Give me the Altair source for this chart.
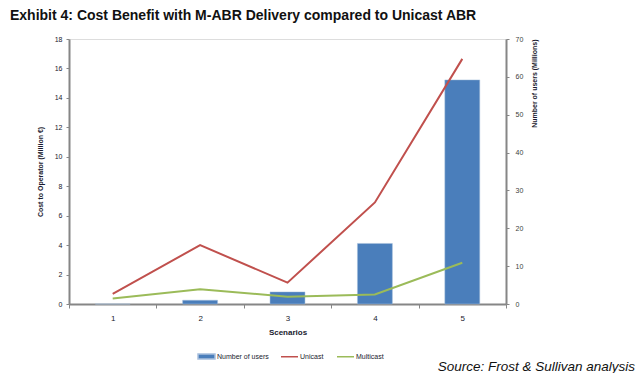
import altair as alt
import pandas as pd

scenarios = ["1", "2", "3", "4", "5"]
users = [0.0, 1.0, 3.2, 16.0, 59.2]
unicast = [0.68, 4.0, 1.45, 6.9, 16.65]
multicast = [0.37, 1.0, 0.5, 0.65, 2.8]

bar_df = pd.DataFrame({"Scenario": scenarios, "Users": users, "Series": "Number of users"})
line_df = pd.DataFrame({
    "Scenario": scenarios * 2,
    "Cost": unicast + multicast,
    "Series": ["Unicast"] * 5 + ["Multicast"] * 5,
})

AX = "#868686"
FONT = "Liberation Sans"

xenc = alt.X("Scenario:N", sort=scenarios,
             scale=alt.Scale(paddingInner=0, paddingOuter=0),
             axis=alt.Axis(title="Scenarios", labelAngle=0, tickBand="extent",
                           domainColor=AX, domainWidth=2, tickColor=AX, tickSize=4,
                           labelFontSize=8, labelPadding=6, labelColor="#1a1a2e",
                           titleFontSize=8, titleFontWeight="bold", titlePadding=6,
                           titleColor="#1a1a2e"))

bars = alt.Chart(bar_df).mark_bar(width=alt.RelativeBandSize(0.4), stroke="#a9c0dd", strokeWidth=0.5).encode(
    x=xenc,
    y=alt.Y("Users:Q", scale=alt.Scale(domain=[0, 70]),
            axis=alt.Axis(orient="right", title="Number of users (Millions)",
                          values=[0, 10, 20, 30, 40, 50, 60, 70], grid=False,
                          domainColor=AX, domainWidth=2, tickColor=AX, tickSize=3,
                          labelFontSize=7, labelColor="#404040", labelPadding=6,
                          titleFontSize=7, titleFontWeight="bold", titleColor="#1a1a2e",
                          titleAnchor="end", titleAngle=-90, titlePadding=15)),
    fill=alt.Fill("Series:N", scale=alt.Scale(domain=["Number of users"], range=["#4a7ebb"]),
                  legend=alt.Legend(title=None, orient="none", direction="horizontal",
                                    legendX=128, legendY=308,
                                    symbolType="M-1,-0.3H1V0.3H-1Z", symbolSize=289,
                                    labelFontSize=7, labelColor="#1a1a2e")),
)

lines = alt.Chart(line_df).mark_line(strokeWidth=2).encode(
    x=xenc,
    y=alt.Y("Cost:Q", scale=alt.Scale(domain=[0, 18]),
            axis=alt.Axis(orient="left", title="Cost to Operator (Million €)",
                          values=[0, 2, 4, 6, 8, 10, 12, 14, 16, 18], grid=False,
                          domainColor=AX, domainWidth=2, tickColor=AX, tickSize=3,
                          labelFontSize=7, labelColor="#1a1a2e", labelPadding=4,
                          titleFontSize=7, titleFontWeight="bold", titleColor="#1a1a2e",
                          titlePadding=11)),
    stroke=alt.Stroke("Series:N", scale=alt.Scale(domain=["Unicast", "Multicast"],
                                                  range=["#c0504d", "#9bbb59"]),
                      legend=alt.Legend(title=None, orient="none", direction="horizontal",
                                        legendX=211, legendY=308,
                                        symbolType="stroke", symbolSize=289, symbolStrokeWidth=1.5,
                                        labelFontSize=7, labelColor="#1a1a2e")),
    detail="Series:N",
)

source = alt.Chart(pd.DataFrame({"t": ["Source: Frost & Sullivan analysis"]})).mark_text(
    align="right", baseline="alphabetic", fontSize=13.5, fontStyle="italic", font=FONT, color="#111"
).encode(text="t:N", x=alt.value(566), y=alt.value(332))

chart = alt.layer(bars, lines, source).resolve_scale(
    y="independent", fill="independent", stroke="independent"
).properties(
    width=437, height=265,
    title=alt.TitleParams("Exhibit 4: Cost Benefit with M-ABR Delivery compared to Unicast ABR",
                          anchor="start", frame="group", fontSize=14, font=FONT,
                          fontWeight="bold", color="#111", dx=-59, offset=12),
    autosize=alt.AutoSizeParams(type="none"),
    padding={"left": 61, "top": 31, "right": 130, "bottom": 69},
).configure_view(stroke=None).configure(font=FONT).configure_legend(
    padding=0, columnPadding=10, labelOffset=1
)

chart.save("out.html", embed_options={"renderer": "svg", "actions": False})
